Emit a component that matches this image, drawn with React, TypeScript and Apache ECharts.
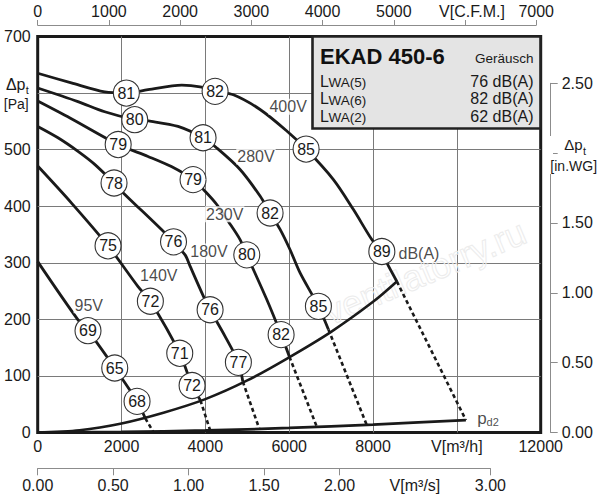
import React, { useEffect, useRef } from "react";
import * as echarts from "echarts";

// ---------- data ----------
// flow in m3/h, total pressure in Pa
const curve400V = [[0,635],[802,618],[1599,602],[2115,600],[2632,606],[3437,614],[3874,611],[4232,603],[4668,597],[5305,571],[5943,533],[6403,501],[7055,447],[7532,394],[7971,341],[8210,318],[8370,294],[8568,267]];
const curve280V = [[0,609],[960,585],[1600,567],[2315,553],[2711,550],[3348,541],[3945,521],[4272,503],[4828,465],[5305,418],[5544,388],[5783,359],[6021,323],[6260,282],[6697,223],[6936,182]];
const curve230V = [[0,586],[771,556],[1920,509],[2632,488],[3189,470],[3706,447],[3998,426],[4272,403],[4549,373],[4828,341],[4988,314],[5465,235],[5807,173],[6005,134]];
const curve180V = [[0,541],[484,521],[962,497],[1360,474],[1821,441],[2036,424],[3031,353],[3240,336],[3516,314],[3635,294],[3952,241],[4113,217],[4470,170],[4788,124],[4893,90]];
const curve140V = [[0,471],[802,406],[1678,330],[2394,258],[2688,232],[3389,140],[3683,83],[3881,57]];
const curve95V = [[0,302],[962,199],[1200,180],[1838,114],[2370,55],[2568,25]];

// dashed continuation: end of each curve on the system line -> dynamic pressure line
const drop400V = [[8568,267],[10215,22]];
const drop280V = [[6936,182],[7852,13]];
const drop230V = [[6005,134],[6659,10]];
const drop180V = [[4893,90],[5289,6]];
const drop140V = [[3881,57],[4113,4]];
const drop95V = [[2568,25],[2752,2]];

const systemCurve = [[0,0],[1000,4],[2000,16],[3000,35],[4000,59],[5000,92],[6000,133],[7000,178],[8000,231],[8568,267]];
const pd2Curve = [[0,0],[2000,1],[4000,3.5],[6000,8],[8000,14],[10215,22]];

// sound level circles: [flow, pressure, dB(A)]
const circles400V = [[2115,600,81],[4232,603,82],[6403,501,85],[8210,320,89]];
const circles280V = [[2315,553,80],[3945,521,81],[5544,388,82],[6697,223,85]];
const circles230V = [[1920,509,79],[3706,447,79],[4988,314,80],[5807,173,82]];
const circles180V = [[1821,441,78],[3240,337,76],[4113,217,76],[4788,124,77]];
const circles140V = [[1678,330,75],[2688,232,72],[3389,140,71],[3683,83,72]];
const circles95V = [[1200,180,69],[1838,114,65],[2370,55,68]];

// text labels in the plot: [text, flow, pressure]
const curveLabels = [["400V",5975,576],["280V",5207,488],["230V",4461,386],["180V",4087,320],["140V",2889,278],["95V",1219,225],["dB(A)",9096,317]];
const pd2Label = [[10742,24]];

// axes
const flowMax = 12000, flowStep = 2000;
const flowName = "V[m³/h]", flowNameAt = 10000;
const pressureMax = 700, pressureStep = 100, pressureNameAt = 600;
const cfmMax = 7000, cfmStep = 1000, cfmName = "V[C.F.M.]", cfmNameAt = 6000;
const m3sMax = 3, m3sTicks = [0,0.5,1,1.5,2,3], m3sLabels = [0,0.5,1,1.5,2,2.5,3];
const m3sName = "V[m³/s]", m3sNameAt = 2.5;
const inwgMax = 2.5, inwgTicks = [0,0.5,1,1.5,2,2.5], inwgLabels = [0,0.5,1,1.5,2.5];

const infoTitle = "EKAD 450-6";
const infoHeader = "Geräusch";
const infoRows = [["(5)","76 dB(A)"],["(6)","82 dB(A)"],["(2)","62 dB(A)"]];

const CFM_TO_M3H = 1.699;
const M3S_TO_M3H = 3600;

// ---------- style ----------
const FONT = "'Liberation Sans', Arial, Helvetica, sans-serif";
const INK = "#1a1a1a";
const GRID_GRAY = "#7a7a7a";
const AXIS_GRAY = "#8c8c8c";

const L = 37.7, T = 36.5, W = 503, H = 396;
const pxPerFlow = W / flowMax;

function buildOption(): any {
  const curves = [
    { c: curve400V, d: drop400V, k: circles400V },
    { c: curve280V, d: drop280V, k: circles280V },
    { c: curve230V, d: drop230V, k: circles230V },
    { c: curve180V, d: drop180V, k: circles180V },
    { c: curve140V, d: drop140V, k: circles140V },
    { c: curve95V, d: drop95V, k: circles95V },
  ];
  const series: any[] = [];
  const lineBase = { type: "line", xAxisIndex: 0, yAxisIndex: 0, symbol: "none", silent: true };
  series.push({ ...lineBase, data: systemCurve, smooth: 0.3, lineStyle: { color: INK, width: 2.6 }, z: 3 });
  series.push({ ...lineBase, data: pd2Curve, smooth: 0.3, lineStyle: { color: INK, width: 2.8 }, z: 3 });
  curves.forEach((cv) => {
    series.push({ ...lineBase, data: cv.c, smooth: 0.3, lineStyle: { color: INK, width: 2.8, join: "round" }, z: 3 });
    series.push({ ...lineBase, data: cv.d, lineStyle: { color: INK, width: 2.6, type: [4, 3] }, z: 3 });
  });
  curves.forEach((cv) => {
    series.push({
      type: "scatter", xAxisIndex: 0, yAxisIndex: 0, silent: true, data: cv.k,
      symbol: "circle", symbolSize: 26,
      itemStyle: { color: "#ffffff", borderColor: "#333", borderWidth: 1.1, opacity: 1 },
      label: { show: true, position: "inside", formatter: (p: any) => String(p.value[2]), fontSize: 16, color: INK, fontFamily: FONT },
      z: 6,
    });
  });
  series.push({
    type: "scatter", xAxisIndex: 0, yAxisIndex: 0, silent: true,
    data: curveLabels.map((r) => ({ value: [r[1], r[2]], name: r[0] })),
    symbolSize: 1, itemStyle: { color: "rgba(0,0,0,0)" },
    label: { show: true, position: "inside", formatter: (p: any) => p.name, fontSize: 16, color: INK, fontFamily: FONT, backgroundColor: "#ffffff", padding: [0, 1] },
    z: 5,
  });
  series.push({
    type: "scatter", xAxisIndex: 0, yAxisIndex: 0, silent: true, data: pd2Label,
    symbolSize: 1, itemStyle: { color: "rgba(0,0,0,0)" },
    label: {
      show: true, position: "inside", formatter: "{p|p}{s|d2}",
      rich: {
        p: { fontSize: 17, color: INK, fontFamily: FONT, verticalAlign: "bottom" },
        s: { fontSize: 11, color: INK, fontFamily: FONT, verticalAlign: "bottom", lineHeight: 6 },
      },
    },
    z: 5,
  });

  const labelText = { fontSize: 16, color: INK, fontFamily: FONT };
  const thinAxis = { show: true, onZero: false, lineStyle: { color: AXIS_GRAY, width: 1 } };

  const graphic: any[] = [
    // watermark
    { type: "text", x: 425, y: 272, rotation: 0.4, z: 1, silent: true,
      style: { text: "ventilatorry.ru", fontSize: 36, fontFamily: FONT, fill: "rgba(255,255,255,0)", stroke: "#ececec", lineWidth: 1, align: "center", verticalAlign: "middle" } },
    // left axis name (replaces 600)
    { type: "text", x: 25.5, y: 84, z: 20, style: { text: "Δp", fontSize: 16, fontFamily: FONT, fill: INK, align: "right", verticalAlign: "middle" } },
    { type: "text", x: 25.8, y: 89.5, z: 20, style: { text: "t", fontSize: 11, fontFamily: FONT, fill: INK, align: "left", verticalAlign: "middle" } },
    { type: "text", x: 16.3, y: 104, z: 20, style: { text: "[Pa]", fontSize: 14, fontFamily: FONT, fill: INK, align: "center", verticalAlign: "middle" } },
    // right axis name (replaces 2.00)
    { type: "rect", z: 19, shape: { x: 548.5, y: 136, width: 4.5, height: 38 }, style: { fill: "#ffffff" } },
    { type: "text", x: 582.7, y: 144, z: 20, style: { text: "Δp", fontSize: 15, fontFamily: FONT, fill: INK, align: "right", verticalAlign: "middle" } },
    { type: "text", x: 583, y: 151, z: 20, style: { text: "t", fontSize: 11, fontFamily: FONT, fill: INK, align: "left", verticalAlign: "middle" } },
    { type: "text", x: 573.7, y: 166, z: 20, style: { text: "[in.WG]", fontSize: 14, fontFamily: FONT, fill: INK, align: "center", verticalAlign: "middle" } },
    // info box
    { type: "rect", z: 30, shape: { x: 312.5, y: 36.5, width: 228, height: 92 }, style: { fill: "#e4e4e4", stroke: "#222", lineWidth: 2.6 } },
    { type: "text", x: 320, y: 56, z: 31, style: { text: infoTitle, fontSize: 22, fontWeight: "bold", fontFamily: FONT, fill: "#111", align: "left", verticalAlign: "middle" } },
    { type: "text", x: 533.5, y: 58.5, z: 31, style: { text: infoHeader, fontSize: 13.5, fontFamily: FONT, fill: INK, align: "right", verticalAlign: "middle" } },
  ];
  const rowY = [81, 98.6, 116.3];
  infoRows.forEach((r, i) => {
    graphic.push({ type: "text", x: 320, y: rowY[i], z: 31, style: { text: "L", fontSize: 16, fontFamily: FONT, fill: INK, align: "left", verticalAlign: "middle" } });
    graphic.push({ type: "text", x: 328.5, y: rowY[i] + 1.5, z: 31, style: { text: "WA" + r[0], fontSize: 13.5, fontFamily: FONT, fill: INK, align: "left", verticalAlign: "middle" } });
    graphic.push({ type: "text", x: 533.5, y: rowY[i], z: 31, style: { text: r[1], fontSize: 16, fontFamily: FONT, fill: INK, align: "right", verticalAlign: "middle" } });
  });

  return {
    animation: false,
    backgroundColor: "#ffffff",
    textStyle: { fontFamily: FONT },
    grid: [
      { left: L, top: T, width: W, height: H, show: true, borderColor: INK, borderWidth: 3, backgroundColor: "rgba(0,0,0,0)", containLabel: false, outerBoundsMode: "none" },
      { left: L, top: 25, width: cfmMax * CFM_TO_M3H * pxPerFlow, height: 1, containLabel: false, outerBoundsMode: "none" },
      { left: L, top: 467.3, width: m3sMax * M3S_TO_M3H * pxPerFlow, height: 1, containLabel: false, outerBoundsMode: "none" },
      { left: 549.7, top: 83.3, width: 1, height: T + H - 83.3, containLabel: false, outerBoundsMode: "none" },
    ],
    xAxis: [
      {
        type: "value", gridIndex: 0, min: 0, max: flowMax, interval: flowStep,
        axisLine: { show: false }, axisTick: { show: false },
        splitLine: { show: true, showMinLine: false, showMaxLine: false, lineStyle: { color: GRID_GRAY, width: 1 } },
        axisLabel: { ...labelText, margin: 6, showMinLabel: true, showMaxLabel: true, formatter: (v: number) => (v === flowNameAt ? flowName : String(v)) },
      },
      {
        type: "value", gridIndex: 1, position: "top", min: 0, max: cfmMax, interval: cfmStep,
        axisLine: thinAxis, axisTick: { show: true, length: 5, lineStyle: { color: AXIS_GRAY } },
        splitLine: { show: false },
        axisLabel: {
          ...labelText, margin: 6, showMinLabel: true, showMaxLabel: true,
          formatter: (v: number) => (v === cfmNameAt ? "{n|" + cfmName + "}" : String(v)),
          rich: { n: { ...labelText, padding: [0, 0, 0, 14] } },
        },
      },
      {
        type: "value", gridIndex: 2, position: "bottom", min: 0, max: m3sMax,
        axisLine: thinAxis,
        axisTick: { show: true, length: 7, customValues: m3sTicks, lineStyle: { color: AXIS_GRAY } },
        splitLine: { show: false },
        axisLabel: { ...labelText, margin: 9, customValues: m3sLabels, showMinLabel: true, showMaxLabel: true, formatter: (v: number) => (v === m3sNameAt ? m3sName : v.toFixed(2)) },
      },
      { type: "value", gridIndex: 3, min: 0, max: 1, show: false },
    ],
    yAxis: [
      {
        type: "value", gridIndex: 0, min: 0, max: pressureMax, interval: pressureStep,
        axisLine: { show: false }, axisTick: { show: false },
        splitLine: { show: true, showMinLine: false, showMaxLine: false, lineStyle: { color: GRID_GRAY, width: 1 } },
        axisLabel: { ...labelText, margin: 7, showMinLabel: true, showMaxLabel: true, formatter: (v: number) => (v === pressureNameAt ? "" : String(v)) },
      },
      { type: "value", gridIndex: 1, min: 0, max: 1, show: false },
      { type: "value", gridIndex: 2, min: 0, max: 1, show: false },
      {
        type: "value", gridIndex: 3, position: "right", min: 0, max: inwgMax,
        axisLine: thinAxis,
        axisTick: { show: true, length: 7, customValues: inwgTicks, lineStyle: { color: AXIS_GRAY } },
        splitLine: { show: false },
        axisLabel: { ...labelText, margin: 11, customValues: inwgLabels, showMinLabel: true, showMaxLabel: true, formatter: (v: number) => v.toFixed(2) },
      },
    ],
    graphic,
    series,
  };
}

export default function App() {
  const ref = useRef<HTMLDivElement>(null);
  useEffect(() => {
    if (!ref.current) return;
    const chart = echarts.init(ref.current, undefined, { renderer: "svg" });
    chart.setOption(buildOption());
    return () => chart.dispose();
  }, []);
  return (
    <div
      ref={ref}
      style={{ position: "fixed", left: 0, top: 0, width: 600, height: 500, background: "#ffffff" }}
    />
  );
}
